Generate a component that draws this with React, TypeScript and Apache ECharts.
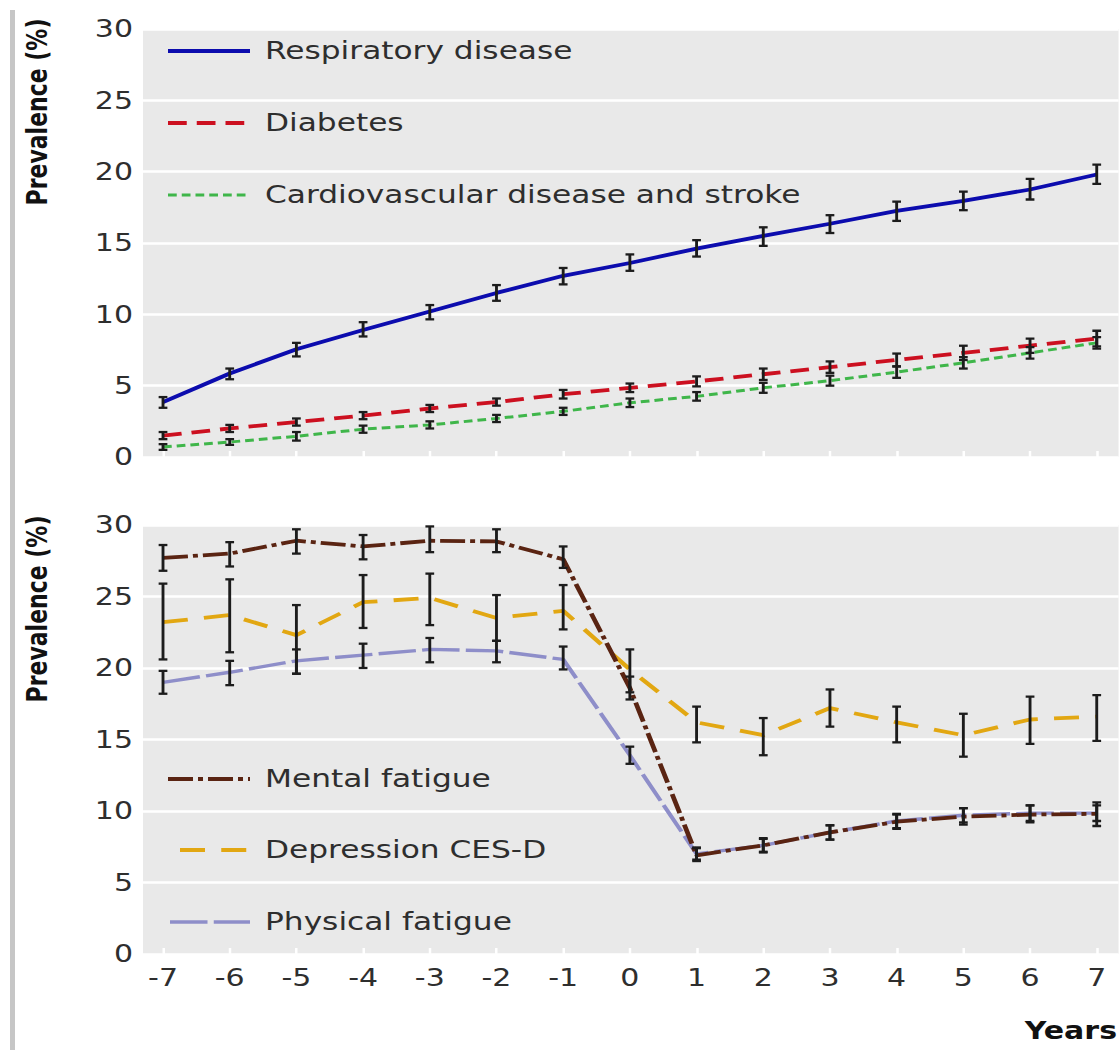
import React, { useEffect, useRef } from "react";
import * as echarts from "echarts";

// Prevalence (%) by year relative to the event, with 95% confidence limits
const years = [-7, -6, -5, -4, -3, -2, -1, 0, 1, 2, 3, 4, 5, 6, 7];
const yTicks = [0, 5, 10, 15, 20, 25, 30];

// Chronic disease panel
const respiratory = [3.85, 5.85, 7.55, 8.9, 10.2, 11.5, 12.7, 13.6, 14.6, 15.5, 16.35, 17.25, 17.95, 18.75, 19.8];
const respiratoryLow = [3.45, 5.45, 7.05, 8.45, 9.65, 10.95, 12.1, 13.05, 14.05, 14.8, 15.7, 16.55, 17.3, 18.05, 19.15];
const respiratoryHigh = [4.2, 6.2, 8.0, 9.45, 10.65, 12.05, 13.25, 14.2, 15.2, 16.1, 16.95, 17.9, 18.6, 19.5, 20.5];

const diabetes = [1.5, 2.0, 2.45, 2.9, 3.4, 3.85, 4.4, 4.85, 5.3, 5.8, 6.3, 6.8, 7.3, 7.8, 8.3];
const diabetesLow = [1.25, 1.75, 2.2, 2.65, 3.15, 3.6, 4.1, 4.55, 4.95, 5.4, 5.9, 6.35, 6.8, 7.3, 7.75];
const diabetesHigh = [1.75, 2.25, 2.7, 3.15, 3.65, 4.1, 4.7, 5.15, 5.65, 6.2, 6.7, 7.25, 7.8, 8.3, 8.85];

const cardiovascular = [0.7, 1.05, 1.45, 1.95, 2.25, 2.7, 3.2, 3.8, 4.25, 4.85, 5.35, 5.95, 6.6, 7.3, 8.0];
const cardiovascularLow = [0.5, 0.85, 1.15, 1.7, 2.0, 2.45, 2.95, 3.5, 3.95, 4.5, 5.0, 5.55, 6.2, 6.9, 7.6];
const cardiovascularHigh = [0.9, 1.25, 1.75, 2.2, 2.5, 2.95, 3.45, 4.1, 4.55, 5.2, 5.7, 6.35, 7.0, 7.7, 8.4];

// Fatigue and depression panel
const mental = [27.7, 28.0, 28.9, 28.5, 28.9, 28.85, 27.6, 18.6, 6.9, 7.6, 8.5, 9.25, 9.6, 9.75, 9.8];
const mentalLow = [26.8, 27.1, 28.0, 27.6, 28.1, 28.1, 27.0, 17.8, 6.5, 7.1, 8.0, 8.75, 9.05, 9.2, 8.95];
const mentalHigh = [28.6, 28.8, 29.7, 29.3, 29.9, 29.7, 28.5, 19.4, 7.4, 8.1, 9.0, 9.75, 10.2, 10.4, 10.6];

const depression = [23.2, 23.7, 22.3, 24.6, 24.9, 23.5, 24.0, 19.9, 16.2, 15.3, 17.2, 16.2, 15.3, 16.4, 16.6];
const depressionLow = [20.6, 21.1, 19.6, 22.8, 23.0, 21.9, 22.7, 18.3, 14.8, 13.9, 15.9, 14.8, 13.8, 14.7, 14.9];
const depressionHigh = [25.9, 26.2, 24.4, 26.5, 26.6, 25.1, 25.8, 21.3, 17.3, 16.5, 18.5, 17.3, 16.8, 18.0, 18.1];

const physical = [19.0, 19.7, 20.5, 20.9, 21.3, 21.2, 20.6, 13.9, 7.0, 7.6, 8.5, 9.3, 9.7, 9.85, 9.85];
const physicalLow = [18.2, 18.8, 19.6, 20.0, 20.4, 20.4, 19.9, 13.3, 6.6, 7.15, 8.0, 8.8, 9.2, 9.3, 9.3];
const physicalHigh = [19.8, 20.5, 21.3, 21.7, 22.1, 21.9, 21.5, 14.5, 7.45, 8.05, 9.0, 9.8, 10.2, 10.4, 10.4];

// The figure is drawn in a narrower canvas and widened horizontally.
const SCALE_X = 1.25;
const PAGE_W = 1119;
const PAGE_H = 1050;
const CANVAS_W = PAGE_W / SCALE_X;
const ux = (px: number) => px / SCALE_X;

const FONT = "DejaVu Sans";
const TEXT = "#2e2e2e";
const PANEL_BG = "#e9e9e9";

const COLORS = {
  respiratory: "#0c0cae",
  diabetes: "#cc1020",
  cardiovascular: "#3fb64a",
  mental: "#5a2412",
  depression: "#e2a712",
  physical: "#8e8ec9",
};

const DASH = {
  respiratory: "solid" as any,
  diabetes: [15, 8],
  cardiovascular: [7, 4],
  mental: [20, 4, 4, 4],
  depression: [20, 13],
  physical: [30, 5],
};

const WIDTH = {
  respiratory: 3.8,
  diabetes: 3.8,
  cardiovascular: 3,
  mental: 3.8,
  depression: 3.8,
  physical: 3.4,
};

const pairs = (vals: number[]) => years.map((y, i) => [y, vals[i]]);

function lineSeries(name: string, vals: number[], color: string, dash: any, axis: number, width: number) {
  return {
    name,
    type: "line",
    xAxisIndex: axis,
    yAxisIndex: axis,
    data: pairs(vals),
    showSymbol: false,
    symbol: "none",
    lineStyle: { color, width, type: dash, cap: "butt" },
    z: 3,
  };
}

function errorSeries(low: number[], high: number[], axis: number) {
  return {
    type: "custom",
    xAxisIndex: axis,
    yAxisIndex: axis,
    data: years.map((y, i) => [y, low[i], high[i]]),
    encode: { x: 0, y: [1, 2] },
    z: 5,
    silent: true,
    renderItem: (_params: any, api: any) => {
      const x = api.value(0);
      const a = api.coord([x, api.value(1)]);
      const b = api.coord([x, api.value(2)]);
      const hw = 3.5;
      const style = { stroke: "#1c1c1c", lineWidth: 2.3 };
      return {
        type: "group",
        children: [
          { type: "line", shape: { x1: a[0], y1: a[1], x2: b[0], y2: b[1] }, style },
          { type: "line", shape: { x1: a[0] - hw, y1: a[1], x2: a[0] + hw, y2: a[1] }, style },
          { type: "line", shape: { x1: b[0] - hw, y1: b[1], x2: b[0] + hw, y2: b[1] }, style },
        ],
      };
    },
  };
}

function legendEntry(x1: number, x2: number, y: number, label: string, color: string, dash: any, width: number) {
  return [
    {
      type: "line",
      shape: { x1: ux(x1), y1: y, x2: ux(x2), y2: y },
      style: { stroke: color, lineWidth: width, lineDash: dash === "solid" ? null : dash },
      z: 10,
    },
    {
      type: "text",
      x: ux(265),
      y,
      style: {
        text: label,
        fontSize: 25,
        fontFamily: FONT,
        fill: TEXT,
        align: "left",
        verticalAlign: "middle",
        textAlign: "left",
        textVerticalAlign: "middle",
      },
      z: 10,
    },
  ];
}

function yTitle(y: number) {
  return {
    type: "text",
    x: ux(38),
    y,
    rotation: Math.PI / 2,
    style: {
      text: "Prevalence (%)",
      fontSize: 22,
      fontWeight: "bold",
      fontFamily: FONT,
      fill: "#111",
      align: "center",
      verticalAlign: "middle",
      textAlign: "center",
      textVerticalAlign: "middle",
    },
  };
}

const gridLeft = ux(143);
const gridWidth = CANVAS_W - gridLeft;

function xAxis(gridIndex: number, showLabels: boolean) {
  return {
    type: "value",
    gridIndex,
    min: -7.3,
    max: 7.33,
    axisLine: { show: false },
    splitLine: { show: false },
    axisTick: {
      show: true,
      inside: true,
      length: 6,
      customValues: years,
      lineStyle: { color: "#ffffff", width: 2 },
    },
    axisLabel: {
      show: showLabels,
      customValues: years,
      fontSize: 24,
      fontFamily: FONT,
      color: TEXT,
      margin: 12,
    },
  };
}

function yAxis(gridIndex: number) {
  return {
    type: "value",
    gridIndex,
    min: 0,
    max: 30,
    interval: 5,
    axisLine: { show: false },
    axisTick: { show: false },
    splitLine: { show: true, lineStyle: { color: "#ffffff", width: 2.5 } },
    axisLabel: {
      customValues: yTicks,
      fontSize: 24,
      fontFamily: FONT,
      color: TEXT,
      margin: 8,
    },
  };
}

export default function App() {
  const ref = useRef<HTMLDivElement>(null);

  useEffect(() => {
    if (!ref.current) return;
    const chart = echarts.init(ref.current, null, { renderer: "svg" });

    const option: any = {
      animation: false,
      backgroundColor: "#ffffff",
      textStyle: { fontFamily: FONT },
      grid: [
        { left: gridLeft, top: 29, width: gridWidth, height: 428, show: true, backgroundColor: PANEL_BG, borderWidth: 0 },
        { left: gridLeft, top: 525, width: gridWidth, height: 429, show: true, backgroundColor: PANEL_BG, borderWidth: 0 },
      ],
      xAxis: [xAxis(0, false), xAxis(1, true)],
      yAxis: [yAxis(0), yAxis(1)],
      series: [
        lineSeries("Cardiovascular disease and stroke", cardiovascular, COLORS.cardiovascular, DASH.cardiovascular, 0, WIDTH.cardiovascular),
        lineSeries("Diabetes", diabetes, COLORS.diabetes, DASH.diabetes, 0, WIDTH.diabetes),
        lineSeries("Respiratory disease", respiratory, COLORS.respiratory, DASH.respiratory, 0, WIDTH.respiratory),
        errorSeries(respiratoryLow, respiratoryHigh, 0),
        errorSeries(diabetesLow, diabetesHigh, 0),
        errorSeries(cardiovascularLow, cardiovascularHigh, 0),

        lineSeries("Physical fatigue", physical, COLORS.physical, DASH.physical, 1, WIDTH.physical),
        lineSeries("Depression CES-D", depression, COLORS.depression, DASH.depression, 1, WIDTH.depression),
        lineSeries("Mental fatigue", mental, COLORS.mental, DASH.mental, 1, WIDTH.mental),
        errorSeries(physicalLow, physicalHigh, 1),
        errorSeries(depressionLow, depressionHigh, 1),
        errorSeries(mentalLow, mentalHigh, 1),
      ],
      graphic: [
        // page rule on the left edge
        { type: "rect", shape: { x: ux(10), y: 10, width: ux(5), height: PAGE_H - 10 }, style: { fill: "#c6c6c6" } },
        yTitle(112),
        yTitle(609),
        ...legendEntry(168, 250, 51, "Respiratory disease", COLORS.respiratory, DASH.respiratory, WIDTH.respiratory),
        ...legendEntry(168, 250, 123, "Diabetes", COLORS.diabetes, DASH.diabetes, WIDTH.diabetes),
        ...legendEntry(168, 250, 195, "Cardiovascular disease and stroke", COLORS.cardiovascular, DASH.cardiovascular, WIDTH.cardiovascular),
        ...legendEntry(168, 250, 779, "Mental fatigue", COLORS.mental, DASH.mental, WIDTH.mental),
        ...legendEntry(180, 250, 850, "Depression CES-D", COLORS.depression, DASH.depression, WIDTH.depression),
        ...legendEntry(170, 250, 922, "Physical fatigue", COLORS.physical, DASH.physical, WIDTH.physical),
        {
          type: "text",
          x: ux(1117),
          y: 1031,
          style: {
            text: "Years",
            fontSize: 24,
            fontWeight: "bold",
            fontFamily: FONT,
            fill: "#111",
            align: "right",
            verticalAlign: "middle",
            textAlign: "right",
            textVerticalAlign: "middle",
          },
        },
      ],
    };

    chart.setOption(option);
    return () => chart.dispose();
  }, []);

  return (
    <div
      style={{
        position: "absolute",
        left: 0,
        top: 0,
        width: PAGE_W,
        height: PAGE_H,
        overflow: "hidden",
        background: "#ffffff",
      }}
    >
      <div
        ref={ref}
        style={{
          width: CANVAS_W,
          height: PAGE_H,
          transform: `scaleX(${SCALE_X})`,
          transformOrigin: "0 0",
        }}
      />
    </div>
  );
}
